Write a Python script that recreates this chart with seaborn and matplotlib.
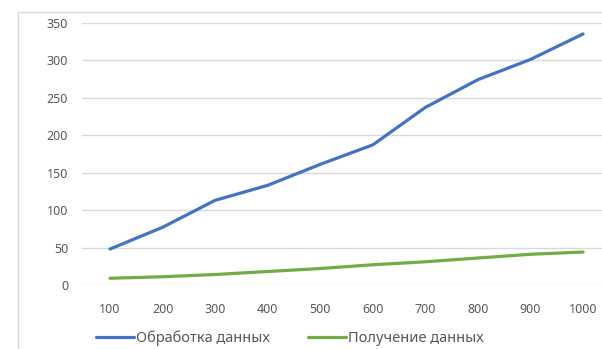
import pandas as pd
import matplotlib
matplotlib.use('Agg')
import matplotlib.pyplot as plt
import seaborn as sns
from matplotlib.patches import Rectangle

# data
sizes = [100, 200, 300, 400, 500, 600, 700, 800, 900, 1000]
processing = [48, 77, 113, 133, 161, 187, 237, 274, 301, 335]
receiving = [9, 11, 14, 18, 22, 27, 31, 36, 41, 44]
series_names = ['Обработка данных', 'Получение данных']
y_ticks = [0, 50, 100, 150, 200, 250, 300, 350]

sns.set_theme(style='white')
plt.rcParams['font.family'] = ['Noto Sans', 'DejaVu Sans']

df = pd.DataFrame({
    'size': sizes * 2,
    'value': processing + receiving,
    'series': [series_names[0]] * len(sizes) + [series_names[1]] * len(sizes),
})

fig = plt.figure(figsize=(6.02, 3.49), dpi=100)
fig.patch.set_facecolor('white')
# light outer frame of the chart area
fig.patches.append(Rectangle((18 / 602, -0.05), 1.2, (349 - 12) / 349 + 0.05,
                             transform=fig.transFigure, fill=False,
                             edgecolor='#d9d9d9', linewidth=1))

ax = fig.add_axes([82 / 602, 64 / 349, 520 / 602, 262.3 / 349])
sns.lineplot(data=df, x='size', y='value', hue='series',
             palette=['#4472C4', '#70AD47'], linewidth=2.3, ax=ax, legend=True)

ax.set_xlim(46.7, 1036)
ax.set_ylim(0, 350)
ax.set_xticks(sizes)
ax.set_yticks(y_ticks)
ax.grid(axis='y', color='#d9d9d9', linewidth=1)
ax.set_axisbelow(True)
for s in ax.spines.values():
    s.set_visible(False)
ax.tick_params(axis='both', length=0, labelsize=9, colors='#595959')
ax.tick_params(axis='y', pad=10)
ax.tick_params(axis='x', pad=13)
ax.set_xlabel('')
ax.set_ylabel('')

handles, labels = ax.get_legend_handles_labels()
ax.legend_.remove()
leg = fig.legend(handles, labels, loc='center', bbox_to_anchor=(0.482, 0.032),
                 ncol=2, frameon=False, fontsize=10.5, handlelength=2.6,
                 handletextpad=0.15, columnspacing=2.6)
for t in leg.get_texts():
    t.set_color('#595959')

fig.savefig('out.png', dpi=100)
